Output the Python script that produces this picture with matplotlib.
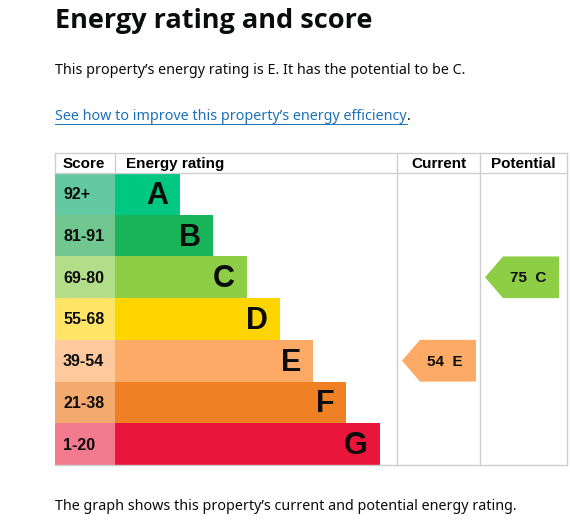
import matplotlib.pyplot as plt
from matplotlib.patches import Polygon

# EPC bands, top to bottom
bands = ['A', 'B', 'C', 'D', 'E', 'F', 'G']
score_ranges = ['92+', '81-91', '69-80', '55-68', '39-54', '21-38', '1-20']
band_min = [92, 81, 69, 55, 39, 21, 1]
bar_colors = ['#00c781', '#19b459', '#8dce46', '#ffd500', '#fcaa65', '#ef8023', '#e9153b']
score_colors = ['#64c8a3', '#70c78f', '#b3dd89', '#ffe466', '#fdc99d', '#f4aa6e', '#f27a8e']

current_score = 54
potential_score = 75

title = 'Energy rating and score'
summary = 'This property\u2019s energy rating is E. It has the potential to be C.'
link_text = 'See how to improve this property\u2019s energy efficiency'
footer = 'The graph shows this property\u2019s current and potential energy rating.'

# layout in pixels
W, H = 570, 526
left, right = 55, 567
score_right = 115
cur_left, pot_left = 397, 480
top, head_bottom = 153, 173
row_h = (465 - head_bottom) / len(bands)
bottom = head_bottom + row_h * len(bands)
step = 33.3
line_col = '#cfcfcf'
tfont = ['Liberation Sans', 'DejaVu Sans']
bfont = ['Noto Sans', 'DejaVu Sans']


def band_of(score):
    for i, m in enumerate(band_min):
        if score >= m:
            return i
    return len(bands) - 1


fig = plt.figure(figsize=(W / 100, H / 100), dpi=100)
ax = fig.add_axes([0, 0, 1, 1])
ax.set_xlim(0, W)
ax.set_ylim(H, 0)
ax.axis('off')

# page text
ax.text(left, 21, title, fontsize=19.5, fontweight='bold', family=['Open Sans', 'DejaVu Sans'],
        va='center', ha='left', color='#0b0c0c')
ax.text(left, 71, summary, fontsize=10.3, family=bfont, va='center', color='#0b0c0c')
lk = ax.text(left, 117, link_text, fontsize=10.3, family=bfont, va='center', color='#1d70b8')
fig.canvas.draw()
bb = lk.get_window_extent().transformed(ax.transData.inverted())
ax.plot([bb.x0, bb.x1], [124, 124], color='#1d70b8', lw=0.7)
ax.text(bb.x1, 117, '.', fontsize=10.3, family=bfont, va='center', color='#0b0c0c')
ax.text(left, 507, footer, fontsize=10.3, family=bfont, va='center', color='#0b0c0c')

# header
hy = (top + head_bottom) / 2
hs = 11
ax.text(63, hy + 1, 'Score', fontsize=hs, fontweight='bold', family=tfont, va='center')
ax.text(126, hy + 1, 'Energy rating', fontsize=hs, fontweight='bold', family=tfont, va='center')
ax.text((cur_left + pot_left) / 2, hy + 1, 'Current', fontsize=hs, fontweight='bold',
        family=tfont, va='center', ha='center')
ax.text((pot_left + right) / 2, hy + 1, 'Potential', fontsize=hs, fontweight='bold',
        family=tfont, va='center', ha='center')

# bands
centers = [head_bottom + row_h * (i + 0.5) for i in range(len(bands))]
lengths = [step * (i + 1.95) for i in range(len(bands))]
ax.barh(centers, [score_right - left] * len(bands), left=left, height=row_h,
        color=score_colors, edgecolor='none')
ax.barh(centers, lengths, left=score_right, height=row_h, color=bar_colors, edgecolor='none')
for i, b in enumerate(bands):
    ax.text(63, centers[i] + 1, score_ranges[i], fontsize=11.5, fontweight='bold',
            family=tfont, va='center', color='#0b0c0c')
    ax.text(score_right + lengths[i] - 12, centers[i] + 2, b, fontsize=22, fontweight='bold',
            family=tfont, va='center', ha='right', color='#0b0c0c')

# table lines
for y in (top, head_bottom, bottom):
    ax.plot([left, right], [y, y], color=line_col, lw=1)
for x in (cur_left, pot_left, right):
    ax.plot([x, x], [top, bottom], color=line_col, lw=1)
for x in (left, score_right):
    ax.plot([x, x], [top, head_bottom], color=line_col, lw=1)


def arrow(score, x0, x1):
    i = band_of(score)
    t = head_bottom + row_h * i
    b = t + row_h
    tip = x0 + 5
    pts = [(tip, (t + b) / 2), (tip + 18, t), (x1 - 4, t), (x1 - 4, b), (tip + 18, b)]
    ax.add_patch(Polygon(pts, closed=True, color=bar_colors[i], ec='none'))
    ax.text((tip + 18 + x1 - 4) / 2 - 3, (t + b) / 2 + 1, f'{score}  {bands[i]}',
            fontsize=11, fontweight='bold', family=tfont, va='center', ha='center',
            color='#0b0c0c')


arrow(current_score, cur_left, pot_left)
arrow(potential_score, pot_left, right - 4)

fig.savefig('out.png', dpi=100)
